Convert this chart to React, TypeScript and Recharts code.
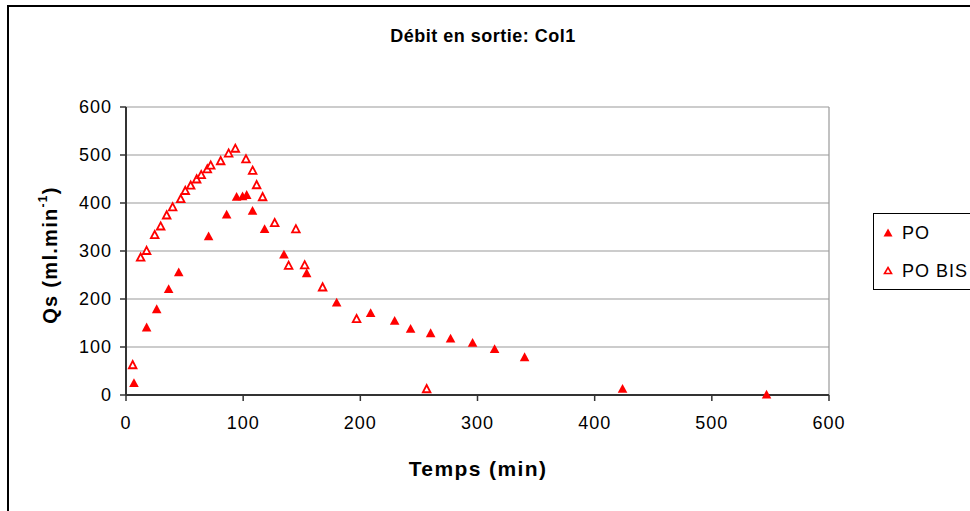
import React from 'react';
import { ScatterChart, Scatter, XAxis, YAxis, CartesianGrid, ReferenceLine } from 'recharts';

const chartTitle = 'Débit en sortie: Col1';
const xTitle = 'Temps (min)';
const seriesNames = ['PO', 'PO BIS'];
const xTicks = [0, 100, 200, 300, 400, 500, 600];
const yTicks = [0, 100, 200, 300, 400, 500, 600];

const poX = [6.8, 17.6, 26.2, 36.4, 45, 70.5, 85.9, 94.4, 99.5, 103, 108, 118.3, 134.8, 154.2, 179.8, 208.8, 229.3, 242.9, 260, 277, 295.8, 314.6, 340.2, 423.8, 546.7];
const poY = [24, 140, 178, 220, 255, 330, 375, 412, 413, 416, 383, 345, 292, 253, 192, 170, 154, 137, 128, 117, 108, 95, 78, 12, 0];

const poBisX = [5.7, 12.5, 17.6, 24.5, 29.6, 34.7, 39.8, 46.7, 50.6, 55.2, 60.3, 64.2, 69.4, 72.3, 80.8, 87.6, 93.3, 102.4, 108.1, 111.5, 116.6, 126.9, 138.8, 145, 152.5, 167.8, 196.8, 256.6];
const poBisY = [62, 286, 300, 333, 351, 374, 391, 408, 425, 436, 449, 458, 470, 478, 487, 503, 513, 491, 467, 437, 412, 358, 269, 345, 270, 224, 158, 12];

const poData = poX.map((x, i) => ({ x, y: poY[i] }));
const poBisData = poBisX.map((x, i) => ({ x, y: poBisY[i] }));

const RED = '#FF0000';
const FONT = '"Liberation Sans", Arial, sans-serif';

const FilledTri = (props: any) => {
  const { cx, cy } = props;
  if (cx == null || cy == null) return null;
  return <polygon points={`${cx},${cy - 5.2} ${cx + 4.8},${cy + 3.6} ${cx - 4.8},${cy + 3.6}`} fill={RED} />;
};

const OpenTri = (props: any) => {
  const { cx, cy } = props;
  if (cx == null || cy == null) return null;
  return (
    <polygon
      points={`${cx},${cy - 4.2} ${cx + 3.8},${cy + 3} ${cx - 3.8},${cy + 3}`}
      fill="#fff"
      stroke={RED}
      strokeWidth={1.8}
    />
  );
};

const YTitle = () => (
  <text
    x={50}
    y={255}
    transform="rotate(-90, 50, 255)"
    textAnchor="middle"
    dominantBaseline="central"
    fontSize={20}
    fontWeight="bold"
    fill="#000"
    letterSpacing={1.3}
    fontFamily={FONT}
  >
    <tspan>Qs (ml.min</tspan>
    <tspan dy={-7} fontSize={12}>-1</tspan>
    <tspan dy={7}>)</tspan>
  </text>
);

const XTitle = () => (
  <text
    x={478}
    y={476}
    textAnchor="middle"
    fontSize={21}
    fontWeight="bold"
    fill="#000"
    letterSpacing={1.4}
    fontFamily={FONT}
  >
    {xTitle}
  </text>
);

const tickStyle = { fill: '#000', fontSize: 18, letterSpacing: 1, fontFamily: FONT };

export default function App() {
  return (
    <div
      style={{
        position: 'fixed',
        left: 0,
        top: 0,
        width: 970,
        height: 511,
        overflow: 'hidden',
        background: '#fff',
        fontFamily: FONT,
      }}
    >
      <div
        style={{
          position: 'absolute',
          left: 7,
          top: 5,
          width: 1000,
          height: 600,
          border: '2px solid #000',
        }}
      />
      <div
        style={{
          position: 'absolute',
          left: 0,
          width: 966,
          top: 25,
          textAlign: 'center',
          fontSize: 18,
          letterSpacing: 0.5,
          fontWeight: 'bold',
          lineHeight: '22px',
          color: '#000',
        }}
      >
        {chartTitle}
      </div>
      <div style={{ position: 'absolute', left: 0, top: 0 }}>
        <ScatterChart
          width={970}
          height={511}
          margin={{ top: 107, right: 141, bottom: 56, left: 0 }}
          style={{ fontFamily: FONT }}
        >
          <CartesianGrid vertical={false} stroke="#999" strokeWidth={1.2} />
          <ReferenceLine x={600} stroke="#999" strokeWidth={1.2} />
          <XAxis
            type="number"
            dataKey="x"
            domain={[0, 600]}
            ticks={xTicks}
            interval={0}
            height={60}
            tickSize={6}
            tickMargin={15}
            axisLine={{ stroke: '#333', strokeWidth: 2 }}
            tickLine={{ stroke: '#333', strokeWidth: 1.5 }}
            tick={tickStyle}
            label={{ content: () => <XTitle /> }}
          />
          <YAxis
            type="number"
            dataKey="y"
            domain={[0, 600]}
            ticks={yTicks}
            interval={0}
            width={126}
            tickSize={6}
            tickMargin={8}
            axisLine={{ stroke: '#333', strokeWidth: 2 }}
            tickLine={{ stroke: '#333', strokeWidth: 1.5 }}
            tick={tickStyle}
            label={{ content: () => <YTitle /> }}
          />
          <Scatter name={seriesNames[0]} data={poData} shape={<FilledTri />} isAnimationActive={false} />
          <Scatter name={seriesNames[1]} data={poBisData} shape={<OpenTri />} isAnimationActive={false} />
        </ScatterChart>
      </div>
      <div
        style={{
          position: 'absolute',
          left: 873,
          top: 213,
          width: 120,
          height: 75,
          border: '1px solid #000',
          background: '#fff',
        }}
      >
        {seriesNames.map((name, i) => (
          <div
            key={name}
            style={{
              position: 'absolute',
              left: 0,
              top: i === 0 ? 8 : 46,
              height: 22,
              display: 'flex',
              alignItems: 'center',
            }}
          >
            <svg width={28} height={22} style={{ display: 'block' }}>
              {i === 0 ? (
                <polygon points="14,6.5 18.5,14.5 9.5,14.5" fill={RED} />
              ) : (
                <polygon points="14,7.5 17.5,13.5 10.5,13.5" fill="#fff" stroke={RED} strokeWidth={1.6} />
              )}
            </svg>
            <span style={{ fontSize: 18, letterSpacing: 1, color: '#000', lineHeight: '22px' }}>{name}</span>
          </div>
        ))}
      </div>
    </div>
  );
}
